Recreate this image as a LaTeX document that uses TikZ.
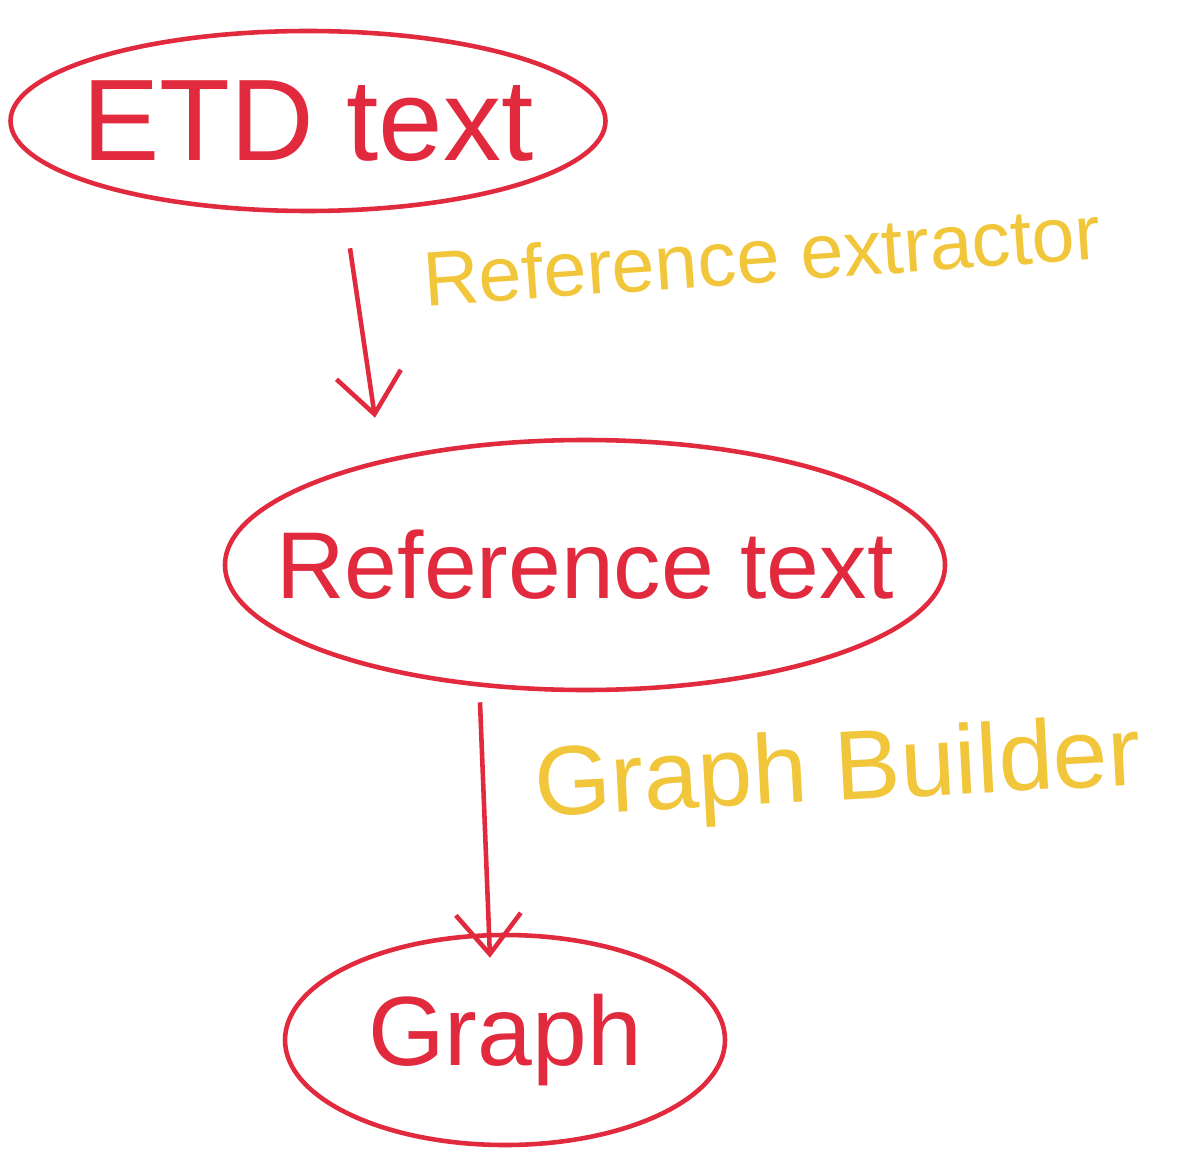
\documentclass[tikz,border=0pt]{standalone}
\usepackage{fontspec}
\setmainfont{Liberation Sans}
\usetikzlibrary{shapes.geometric,arrows.meta}
\definecolor{inkred}{RGB}{226,42,62}
\definecolor{inkyellow}{RGB}{242,198,58}
\begin{document}
\begin{tikzpicture}[
  stage/.style={ellipse,draw=inkred,line width=1.3pt,text=inkred,inner xsep=-0.6cm,inner ysep=0pt},
  flow/.style={draw=inkred,line width=1.3pt,-{Straight Barb[length=4mm,width=6.5mm,line width=1.3pt]}},
  tool/.style={text=inkyellow,inner sep=0pt}
]
\useasboundingbox[fill=white] (0,0) rectangle (11.84,11.51);

% the three stages of the pipeline
\node[stage,minimum width=5.95cm,minimum height=1.8cm,font=\fontsize{33}{36}\selectfont] (etd) at (3.08,10.3) {ETD text};
\node[stage,minimum width=7.2cm,minimum height=2.5cm,font=\fontsize{27}{30}\selectfont] (ref) at (5.85,5.86) {Reference text};
\node[stage,minimum width=4.4cm,minimum height=2.1cm,font=\fontsize{28}{30}\selectfont] (graph) at (5.05,1.11) {Graph};

% transitions between stages
\draw[flow] ([xshift=0.42cm,yshift=-0.35cm]etd.south) -- ([xshift=-2.1cm,yshift=0.2cm]ref.north);
\draw[flow] ([xshift=-1.05cm,yshift=-0.1cm]ref.south) -- ([xshift=-0.15cm,yshift=-0.25cm]graph.north);

% tool names beside the arrows
\node[tool,rotate=4,font=\fontsize{22}{24}\selectfont] (extractor) at (7.62,8.96) {Reference extractor};
\node[tool,rotate=3,font=\fontsize{28}{30}\selectfont] (builder) at (8.38,3.76) {Graph Builder};
\end{tikzpicture}
\end{document}
